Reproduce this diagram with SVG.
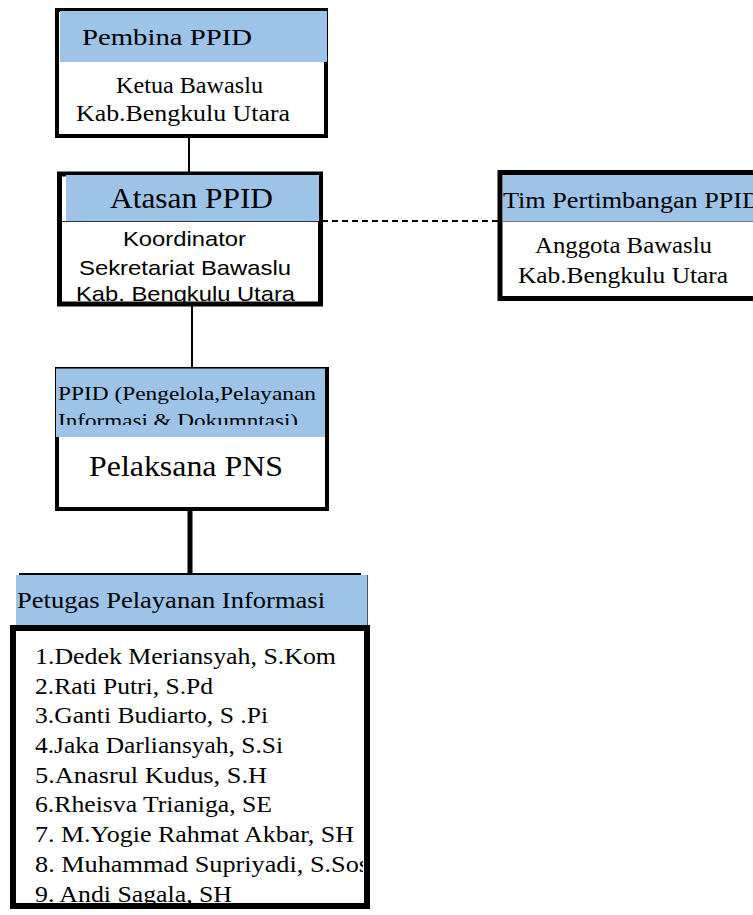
<svg xmlns="http://www.w3.org/2000/svg" width="753" height="915" viewBox="0 0 753 915">
<defs>
<style>
.frame{fill:#fff;stroke:#000}
.hdr{fill:#9dc3e6}
.s{font-family:"Liberation Serif","Times New Roman",serif;fill:#000}
.a{font-family:"Liberation Sans",Arial,sans-serif;fill:#000}
.thin{stroke:#000;stroke-width:2;fill:none}
</style>
<clipPath id="cpAtasan"><rect x="60" y="221" width="262" height="81"/></clipPath>
<clipPath id="cpTim"><rect x="503" y="175" width="260" height="41"/></clipPath>
<clipPath id="cpPpid"><rect x="57" y="369" width="268" height="56"/></clipPath>
<clipPath id="cpList"><rect x="16" y="631" width="347" height="272"/></clipPath>
</defs>
<rect width="753" height="915" fill="#fff"/>

<g id="connectors">
<line class="thin" x1="189" y1="137" x2="189" y2="172"/>
<line class="thin" x1="192" y1="305" x2="192" y2="368"/>
<line x1="190" y1="510" x2="190" y2="574" stroke="#000" stroke-width="5"/>
<line x1="322" y1="221" x2="498" y2="221" stroke="#000" stroke-width="2" stroke-dasharray="6,4"/>
</g>

<g id="pembina">
<rect class="frame" x="57" y="10" width="269" height="126" stroke-width="4"/>
<rect class="hdr" x="60" y="11" width="267" height="51"/>
<line x1="55" y1="9.5" x2="327" y2="9.5" stroke="#000" stroke-width="2"/>
<text class="s" x="82" y="45" font-size="23" textLength="170" lengthAdjust="spacingAndGlyphs">Pembina PPID</text>
<text class="s" x="116" y="93" font-size="23" textLength="147" lengthAdjust="spacingAndGlyphs">Ketua Bawaslu</text>
<text class="s" x="76" y="121" font-size="23" textLength="214" lengthAdjust="spacingAndGlyphs">Kab.Bengkulu Utara</text>
</g>

<g id="atasan">
<rect class="frame" x="59.5" y="174" width="261" height="130" stroke-width="5"/>
<rect class="hdr" x="66" y="175" width="253" height="46"/>
<line x1="62" y1="221.5" x2="319" y2="221.5" stroke="#333" stroke-width="1"/>
<text class="s" x="110" y="208" font-size="29" textLength="163" lengthAdjust="spacingAndGlyphs">Atasan PPID</text>
<g clip-path="url(#cpAtasan)">
<text class="a" x="123" y="246" font-size="21" textLength="123" lengthAdjust="spacingAndGlyphs">Koordinator</text>
<text class="a" x="79" y="275" font-size="21" textLength="212" lengthAdjust="spacingAndGlyphs">Sekretariat Bawaslu</text>
<text class="a" x="76" y="301" font-size="21" textLength="219" lengthAdjust="spacingAndGlyphs">Kab. Bengkulu Utara</text>
</g>
</g>

<g id="tim">
<rect class="frame" x="500" y="172.5" width="270" height="126" stroke-width="5"/>
<rect class="hdr" x="503" y="175" width="260" height="46"/>
<line x1="503" y1="221.5" x2="753" y2="221.5" stroke="#777" stroke-width="1"/>
<g clip-path="url(#cpTim)">
<text class="s" x="503" y="208" font-size="23" textLength="258" lengthAdjust="spacingAndGlyphs">Tim Pertimbangan PPID</text>
</g>
<text class="s" x="535" y="253" font-size="23" textLength="177" lengthAdjust="spacingAndGlyphs">Anggota Bawaslu</text>
<text class="s" x="518" y="283" font-size="23" textLength="210" lengthAdjust="spacingAndGlyphs">Kab.Bengkulu Utara</text>
</g>

<g id="ppid">
<rect class="frame" x="57" y="369" width="270" height="140" stroke-width="4"/>
<rect class="hdr" x="56" y="369" width="269" height="68"/>
<line x1="56" y1="368.5" x2="325" y2="368.5" stroke="#555" stroke-width="1"/>
<g clip-path="url(#cpPpid)">
<text class="s" x="58" y="400" font-size="19" textLength="258" lengthAdjust="spacingAndGlyphs">PPID (Pengelola,Pelayanan</text>
<text class="s" x="58" y="427" font-size="19" textLength="240" lengthAdjust="spacingAndGlyphs">Informasi &amp; Dokumntasi)</text>
</g>
<text class="s" x="89" y="476" font-size="29" textLength="194" lengthAdjust="spacingAndGlyphs">Pelaksana PNS</text>
</g>

<g id="petugas">
<rect class="hdr" x="16" y="575" width="352" height="51"/>
<line x1="19" y1="574" x2="361" y2="574" stroke="#000" stroke-width="2"/>
<line x1="367.5" y1="575" x2="367.5" y2="626" stroke="#555" stroke-width="1"/>
<text class="s" x="17" y="608" font-size="23" textLength="308" lengthAdjust="spacingAndGlyphs">Petugas Pelayanan Informasi</text>
</g>

<g id="petugas-list">
<rect class="frame" x="13" y="628" width="354" height="278" stroke-width="6"/>
<g clip-path="url(#cpList)" class="s" font-size="23.5">
<text x="35" y="664" textLength="301" lengthAdjust="spacingAndGlyphs">1.Dedek Meriansyah, S.Kom</text>
<text x="35" y="694" textLength="178" lengthAdjust="spacingAndGlyphs">2.Rati Putri, S.Pd</text>
<text x="35" y="723" textLength="233" lengthAdjust="spacingAndGlyphs">3.Ganti Budiarto, S .Pi</text>
<text x="35" y="753" textLength="248" lengthAdjust="spacingAndGlyphs">4.Jaka Darliansyah, S.Si</text>
<text x="35" y="783" textLength="232" lengthAdjust="spacingAndGlyphs">5.Anasrul Kudus, S.H</text>
<text x="35" y="812" textLength="237" lengthAdjust="spacingAndGlyphs">6.Rheisva Trianiga, SE</text>
<text x="35" y="842" textLength="319" lengthAdjust="spacingAndGlyphs">7. M.Yogie Rahmat Akbar, SH</text>
<text x="35" y="872" textLength="334" lengthAdjust="spacingAndGlyphs">8. Muhammad Supriyadi, S.Sos</text>
<text x="35" y="902" textLength="197" lengthAdjust="spacingAndGlyphs">9. Andi Sagala, SH</text>
</g>
</g>
</svg>
